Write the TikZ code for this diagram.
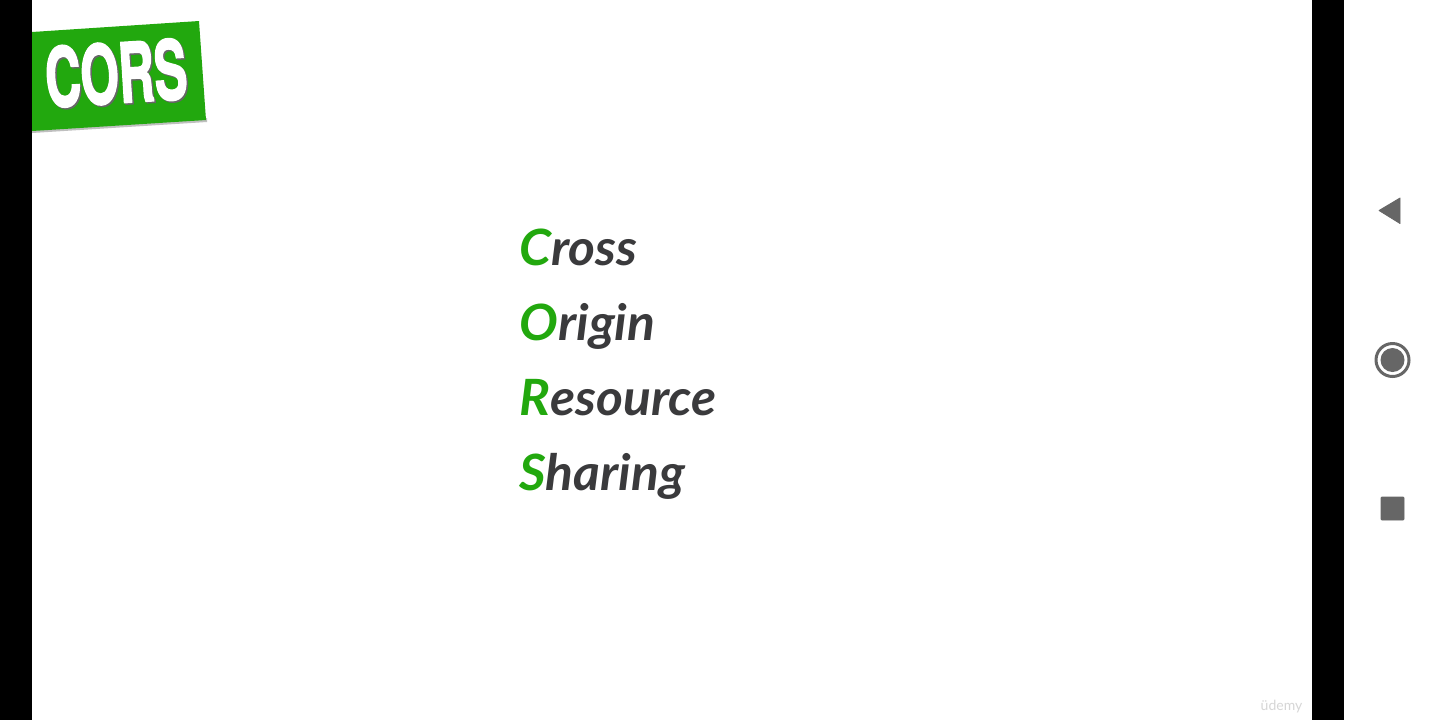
\documentclass[tikz,border=0pt]{standalone}
\usepackage{fontspec}
\setmainfont{Lato}
\newfontfamily\bannerfont[BoldFeatures={FakeBold=2.5}]{TeX Gyre Heros}
\usepackage{xcolor}
\usepackage{tikz}
\usetikzlibrary{positioning}
\definecolor{corsgreen}{HTML}{22A80E}
\definecolor{wordgray}{HTML}{3A3A3C}
\definecolor{navgray}{HTML}{666666}
\tikzset{
  word/.style={inner sep=0pt,anchor=west,text height=18pt,text depth=6pt,xscale=1.03,
            text=wordgray,font=\fontsize{25}{25}\selectfont\bfseries\itshape},
  blackbar/.style={fill=black,draw=none},
  navicon/.style={fill=navgray,draw=navgray,line join=round},
  bannertext/.style={inner sep=0pt,rotate=3.6,xscale=0.6,
            font=\fontsize{41}{41}\selectfont\bannerfont\bfseries},
}
\newcommand{\initial}[1]{\textcolor{corsgreen}{#1}}
\begin{document}
\begin{tikzpicture}[x=0.5pt,y=-0.5pt]
  \useasboundingbox (0,0) rectangle (1440,720);
  \fill[white] (0,0) rectangle (1440,720);
  \fill[blackbar] (0,0) rectangle (32,720);
  \fill[blackbar] (1312,0) rectangle (1344,720);
  % banner
  \fill[black!25] (32,133) -- (207,122) -- (207,118) -- (32,129) -- cycle;
  \fill[corsgreen] (32,32) -- (199,21) -- (206,120) -- (32,131) -- cycle;
  \node[bannertext,text=black!60] at (117.5,74.5) {CORS};
  \node[bannertext,text=white] (banner) at (116,73) {CORS};
  % the four words
  \node[word] (cross) at (519,253) {\initial{C}ross};
  \node[word,below=13.1pt of cross.south west,anchor=north west] (origin) {\initial{O}rigin};
  \node[word,below=13.1pt of origin.south west,anchor=north west] (resource) {\initial{R}esource};
  \node[word,below=13.1pt of resource.south west,anchor=north west] (sharing) {\initial{S}haring};
  % watermark
  \node[inner sep=0pt,text=black!16,font=\fontsize{7}{7}\selectfont] (udemy) at (1281.5,706.5) {\"udemy};
  % navigation buttons
  \fill[navicon] (1379,210.5) -- (1400,198) -- (1400,223.5) -- cycle;
  \draw[navgray,line width=1.5pt] (1392.5,360) circle (16.5);
  \fill[navgray] (1392.5,360) circle (12);
  \fill[navicon,rounded corners=0.5pt] (1381,497) rectangle (1404,520);
\end{tikzpicture}
\end{document}
